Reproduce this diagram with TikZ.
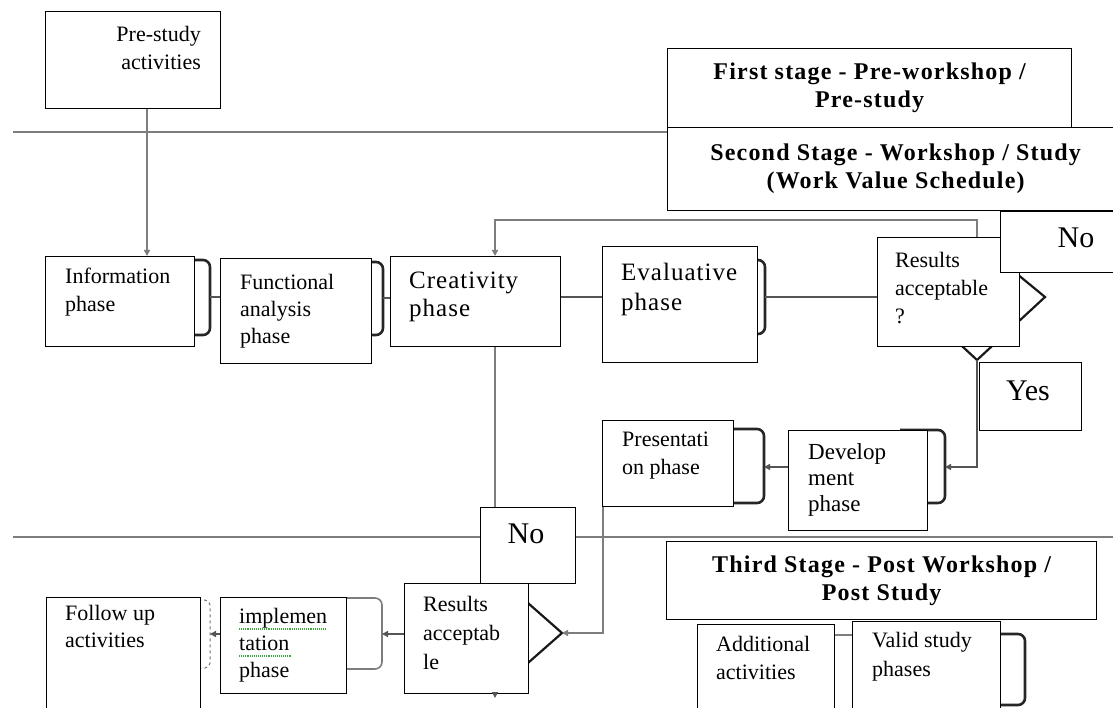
\documentclass[tikz,border=0pt]{standalone}
\usepackage{fontspec}
\setmainfont{Liberation Serif}
\newfontfamily\spacedfont[LetterSpace=4]{Liberation Serif}
\newfontfamily\headfont[LetterSpace=5]{Liberation Serif}
\usetikzlibrary{arrows.meta}
\definecolor{lgray}{RGB}{125,125,125}
\definecolor{dgray}{RGB}{85,85,85}
\definecolor{sqgreen}{RGB}{60,170,60}
\begin{document}
\begin{tikzpicture}[x=1pt,y=-1pt,
  box/.style={draw=black, line width=1.3pt, fill=white, inner sep=0pt, anchor=north west},
  headbox/.style={draw=black, line width=1.3pt, fill=white, inner sep=0pt, anchor=north west, align=center,
     font=\headfont\bfseries\fontsize{24}{28}\selectfont},
  txt/.style={inner sep=0pt, anchor=north west, align=left, font=\fontsize{22}{28}\selectfont},
  bigtxt/.style={inner sep=0pt, anchor=center, font=\fontsize{30}{34}\selectfont},
  sep/.style={draw=lgray, line width=1.4pt},
  connA/.style={draw=lgray, line width=1.8pt},
  connB/.style={draw=dgray, line width=1.8pt},
  arr/.style={-{Triangle[length=6pt,width=6pt]}},
  brk/.style={draw=black!85, line width=2.6pt, rounded corners=7pt},
  gbrk/.style={draw=lgray, line width=1.6pt, rounded corners=7pt},
  dbrk/.style={draw=black!55, line width=1pt, dashed, rounded corners=5pt},
  dia/.style={draw=black!90, line width=2.2pt},
  squig/.style={draw=sqgreen, line width=1.1pt, densely dotted}
]
\useasboundingbox (0,0) rectangle (1113,708);
\fill[white] (0,0) rectangle (1113,708);
\begin{scope}
\clip (0,0) rectangle (1113,708);

% separator lines
\draw[sep] (13,132) -- (667,132);
\draw[sep] (13,537) -- (1113,537);

% decision diamonds (behind boxes)
\draw[dia] (977,241) -- (1045,297) -- (977,360) -- (909,297) -- cycle;
\draw[dia] (495,574) -- (562,633) -- (495,692) -- (428,633) -- cycle;
\coordinate (d1s) at (977,360);
\coordinate (d2e) at (562,633);
\coordinate (d2s) at (495,692);

% brackets (behind boxes)
\draw[brk] (190,260) -- (210,260) -- (210,335) -- (190,335);
\draw[brk] (367,262) -- (383,262) -- (383,335) -- (367,335);
\draw[brk] (753,260) -- (765,260) -- (765,334) -- (753,334);
\draw[brk] (729,429) -- (764,429) -- (764,503) -- (729,503);
\draw[brk] (900,430) -- (945,430) -- (945,503) -- (923,503);
\draw[brk] (996,634) -- (1025,634) -- (1025,705) -- (996,705);
\draw[gbrk] (342,598) -- (382,598) -- (382,669) -- (342,669);
\draw[dbrk] (198,600) -- (210,600) -- (210,668) -- (198,668);
\coordinate (infob) at (210,297);
\coordinate (funcb) at (383,298);
\coordinate (evalb) at (765,297);
\coordinate (devb) at (945,467);
\coordinate (presb) at (764,467);
\coordinate (implb) at (382,634);
\coordinate (folb) at (210,634);
\coordinate (r1) at (0,297);
\coordinate (r3) at (0,635);
\coordinate (r4) at (0,467);

% boxes
\node[box, minimum width=175pt, minimum height=97pt] (pre) at (45,11) {};
\node[headbox, minimum width=404pt, minimum height=79pt] (first) at (667,48)
  {First stage - Pre-workshop /\\Pre-study};
\node[headbox, minimum width=456pt, minimum height=83pt] (second) at (667,127)
  {Second Stage - Workshop / Study\\(Work Value Schedule)};
\node[box, minimum width=149pt, minimum height=90pt] (info) at (45,256) {};
\node[box, minimum width=151pt, minimum height=105pt] (func) at (220,258) {};
\node[box, minimum width=170pt, minimum height=90pt] (crea) at (390,256) {};
\node[box, minimum width=155pt, minimum height=116pt] (eval) at (602,246) {};
\node[box, minimum width=142pt, minimum height=109pt] (res1) at (877,237) {};
\node[box, minimum width=152pt, minimum height=61pt] (no1) at (1000,211) {};
\node[box, minimum width=102pt, minimum height=68pt] (yes) at (979,362) {};
\node[box, minimum width=131pt, minimum height=86pt] (pres) at (602,420) {};
\node[box, minimum width=139pt, minimum height=100pt] (dev) at (788,430) {};
\node[box, minimum width=95pt, minimum height=76pt] (no2) at (480,507) {};
\node[headbox, minimum width=430pt, minimum height=78pt] (third) at (666,541)
  {Third Stage - Post Workshop /\\Post Study};
\node[box, minimum width=124pt, minimum height=110pt] (res2) at (404,583) {};
\node[box, minimum width=154pt, minimum height=130pt] (fol) at (46,597) {};
\node[box, minimum width=126pt, minimum height=96pt] (impl) at (220,597) {};
\node[box, minimum width=137pt, minimum height=100pt] (add) at (697,624) {};
\node[box, minimum width=148pt, minimum height=100pt] (valid) at (852,621) {};

% texts
\node[txt, anchor=north east, align=right] (pre-t) at (201,26) {Pre-study\\activities};
\node[txt] (info-t) at (65,268) {Information\\phase};
\node[txt, font=\fontsize{22}{27}\selectfont] (func-t) at (240,274) {Functional\\analysis\\phase};
\node[txt, font=\spacedfont\fontsize{25}{28}\selectfont] (crea-t) at (409,272) {Creativity\\phase};
\node[txt, font=\spacedfont\fontsize{25}{30}\selectfont] (eval-t) at (621,263) {Evaluative\\phase};
\node[txt] (res1-t) at (895,252) {Results\\acceptable\\?};
\node[bigtxt] (no1-t) at (1076,238) {No};
\node[bigtxt] (yes-t) at (1028,391) {Yes};
\node[txt] (pres-t) at (622,432) {Presentati\\on phase};
\node[txt, font=\fontsize{23}{26}\selectfont] (dev-t) at (808,443) {Develop\\ment\\phase};
\node[bigtxt] (no2-t) at (526,534) {No};
\node[txt, font=\fontsize{22}{29}\selectfont] (res2-t) at (423,596) {Results\\acceptab\\le};
\node[txt, font=\fontsize{22}{27}\selectfont] (fol-t) at (65,605) {Follow up\\activities};
\node[txt, font=\fontsize{22}{27}\selectfont] (impl-t) at (239,608) {implemen\\tation\\phase};
\node[txt] (add-t) at (716,636) {Additional\\activities};
\node[txt, font=\fontsize{22}{29}\selectfont] (val-t) at (872,632) {Valid study\\phases};

% spell-check underline
\draw[squig] (239,629) -- (327,629);
\draw[squig] (239,656) -- (291,656);

% connectors
\draw[connA, arr] ([xshift=102pt]pre.south west) -- ([xshift=102pt]info.north west);
\draw[connB] (infob) -- (func.west |- infob);
\draw[connB] (funcb) -- (crea.west |- funcb);
\draw[connB] (crea.east |- r1) -- (eval.west |- r1);
\draw[connB] (evalb) -- (res1.west |- evalb);
\draw[connA, arr] ([xshift=100pt]res1.north west) -- ++(0,-17) -| ([xshift=105pt]crea.north west);
\draw[connB, arr] (d1s) |- (devb);
\draw[connB, arr] (dev.west |- r4) -- (presb);
\draw[connA, arr] ([xshift=1pt]pres.south west) |- (d2e);
\draw[connA] ([xshift=105pt]crea.south west) -- ([xshift=105pt]crea.south west |- no2.north);
\draw[connB, arr] (res2.west |- implb) -- (implb);
\draw[connB, arr] (impl.west |- folb) -- (folb);
\draw[connA] (add.east |- r3) -- (valid.west |- r3);
\draw[connB, arr] (d2s) -- ++(0,6);
\end{scope}
\end{tikzpicture}
\end{document}
